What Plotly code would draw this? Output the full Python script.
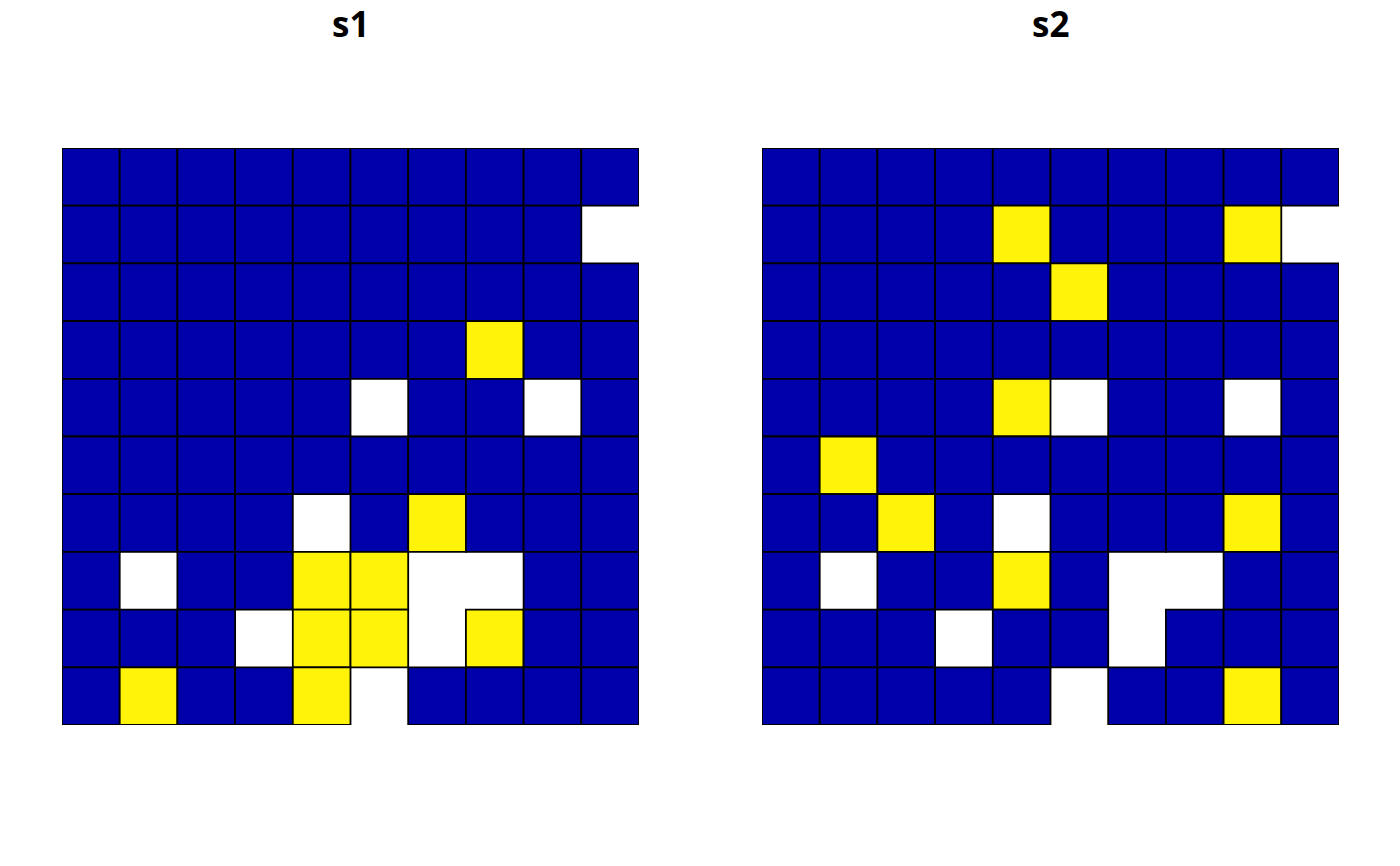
import plotly.graph_objects as go

# Cell states per row (top to bottom), columns 1..10: "b" = blue, "y" = yellow, "n" = missing
s1_rows = [
    "bbbbbbbbbb",
    "bbbbbbbbbn",
    "bbbbbbbbbb",
    "bbbbbbbybb",
    "bbbbbnbbnb",
    "bbbbbbbbbb",
    "bbbbnbybbb",
    "bnbbyynnbb",
    "bbbnyynybb",
    "bybbynbbbb",
]
s2_rows = [
    "bbbbbbbbbb",
    "bbbbybbbyn",
    "bbbbbybbbb",
    "bbbbbbbbbb",
    "bbbbynbbnb",
    "bybbbbbbbb",
    "bbybnbbbyb",
    "bnbbybnnbb",
    "bbbnbbnbbb",
    "bbbbbnbbyb",
]
titles = ["s1", "s2"]
colors = {"b": "#0000AA", "y": "#FFF30A"}

W, H = 1400, 866
off = 8  # page body margin offset
fig = go.Figure()
x_domains = [[(62 - off) / W, (639 - off) / W], [(762 - off) / W, (1339 - off) / W]]
y_domain = [(H - (725 - off)) / H, (H - (148 - off)) / H]
cell_px = 577 / 10

for i, rows in enumerate([s1_rows, s2_rows]):
    xs, ys, cs = [], [], []
    for r, row in enumerate(rows):
        for c, v in enumerate(row):
            if v in colors:
                xs.append(c + 1)
                ys.append(10 - r)
                cs.append(colors[v])
    ax = "" if i == 0 else str(i + 1)
    fig.add_trace(go.Scatter(
        x=xs, y=ys, mode="markers",
        marker=dict(symbol="square", size=cell_px, color=cs,
                    line=dict(color="black", width=1.8)),
        xaxis="x" + ax, yaxis="y" + ax, showlegend=False, hoverinfo="skip",
    ))
    axis_common = dict(range=[0.5, 10.5], showgrid=False, zeroline=False,
                       showticklabels=False, ticks="", showline=False, fixedrange=True)
    fig.layout["xaxis" + ax] = dict(domain=x_domains[i], anchor="y" + ax, **axis_common)
    fig.layout["yaxis" + ax] = dict(domain=y_domain, anchor="x" + ax, **axis_common)
    fig.add_annotation(
        text="<b>%s</b>" % titles[i], x=sum(x_domains[i]) / 2, y=1 - (24 - off) / H,
        xref="paper", yref="paper", xanchor="center", yanchor="middle",
        showarrow=False, font=dict(family="Open Sans", size=35, color="black"),
    )

fig.update_layout(
    width=W, height=H, margin=dict(l=0, r=0, t=0, b=0),
    paper_bgcolor="white", plot_bgcolor="white",
)
fig.write_html("out.html")
